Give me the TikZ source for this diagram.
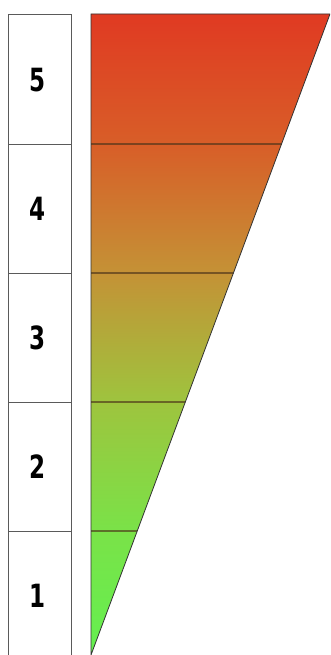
\documentclass[tikz,border=0pt]{standalone}
\usepackage{fontspec}
\newfontfamily\digitfont{DejaVu Sans}
\usetikzlibrary{calc}
\definecolor{cA}{RGB}{224,58,34}
\definecolor{cB}{RGB}{216,94,40}
\definecolor{cC}{RGB}{196,146,54}
\definecolor{cD}{RGB}{158,196,62}
\definecolor{cE}{RGB}{122,226,72}
\definecolor{cF}{RGB}{100,240,80}
\definecolor{boxline}{RGB}{90,90,90}
\tikzset{
  levelbox/.style={draw=boxline, line width=0.9pt, fill=white},
  digit/.style={font=\digitfont\bfseries},
  bandline/.style={draw=black!60!brown, line width=1.1pt},
  triline/.style={draw=black!80, line width=0.8pt}
}
\newcommand{\dg}[1]{\scalebox{0.72}[1]{\fontsize{32}{32}\selectfont #1}}
\begin{document}
\begin{tikzpicture}[x=1pt,y=-1pt]
\useasboundingbox (0,0) rectangle (330,655);
\begin{scope}
\clip (0,0) rectangle (330,655);
% boxes
\draw[levelbox] (8.5,14) rectangle (71.5,144);
\draw[levelbox] (8.5,144) rectangle (71.5,273);
\draw[levelbox] (8.5,273) rectangle (71.5,402);
\draw[levelbox] (8.5,402) rectangle (71.5,531);
\draw[levelbox] (8.5,531) rectangle (71.5,662);
\node[digit] (n5) at (38,80) {\dg{5}};
\node[digit] (n4) at (38,209) {\dg{4}};
\node[digit] (n3) at (38,338) {\dg{3}};
\node[digit] (n2) at (38,467) {\dg{2}};
\node[digit] (n1) at (38,596) {\dg{1}};
% triangle
\coordinate (TL) at (91,14);
\coordinate (TR) at (330,14);
\coordinate (B) at (91,655);
\coordinate (L4) at (91,144);
\coordinate (L3) at (91,273);
\coordinate (L2) at (91,402);
\coordinate (L1) at (91,531);
\coordinate (R4) at ($(TR)!0.2028!(B)$);
\coordinate (R3) at ($(TR)!0.4041!(B)$);
\coordinate (R2) at ($(TR)!0.6053!(B)$);
\coordinate (R1) at ($(TR)!0.8066!(B)$);
\shade[top color=cA, bottom color=cB] (TL) -- (TR) -- (R4) -- (L4) -- cycle;
\shade[top color=cB, bottom color=cC] (L4) -- (R4) -- (R3) -- (L3) -- cycle;
\shade[top color=cC, bottom color=cD] (L3) -- (R3) -- (R2) -- (L2) -- cycle;
\shade[top color=cD, bottom color=cE] (L2) -- (R2) -- (R1) -- (L1) -- cycle;
\shade[top color=cE, bottom color=cF] (L1) -- (R1) -- (B) -- cycle;
\draw[bandline] (L4) -- (R4);
\draw[bandline] (L3) -- (R3);
\draw[bandline] (L2) -- (R2);
\draw[bandline] (L1) -- (R1);
\draw[triline] (B) -- (TL) -- (TR) -- (B);
\end{scope}
\end{tikzpicture}
\end{document}
